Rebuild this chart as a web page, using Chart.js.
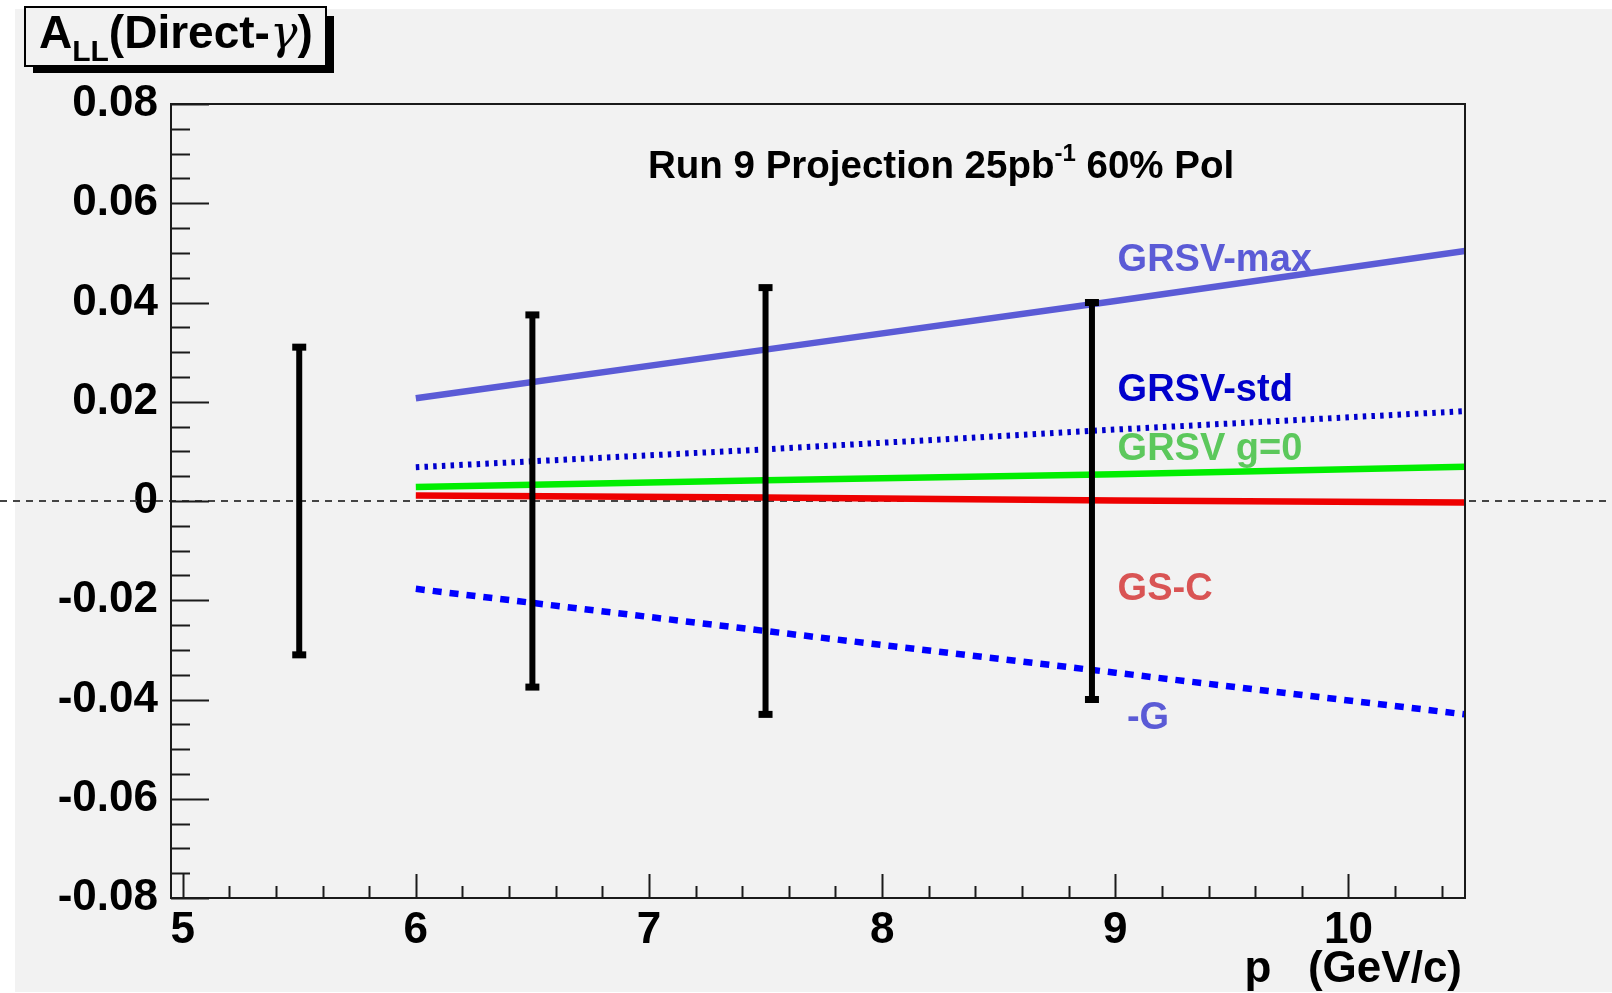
<!DOCTYPE html>
<html>
<head>
<meta charset="utf-8">
<title>A_LL(Direct-gamma) Run 9 projection</title>
<script src="https://cdn.jsdelivr.net/npm/chart.js@4.4.1/dist/chart.umd.min.js"></script>
<style>
  html, body { margin: 0; padding: 0; background: #ffffff; }
  canvas { display: block; }
</style>
</head>
<body>
<canvas id="allChart" width="1612" height="993"></canvas>
<script>
// theory curves at these pT values
const curveX = [6, 7.5, 9, 10.5];
const grsvMax = [0.0207, 0.0305, 0.0403, 0.0504];
const grsvStd = [0.0068, 0.0104, 0.0144, 0.0181];
const grsvZero = [0.0028, 0.0042, 0.0054, 0.0069];
const gsC = [0.0011, 0.0007, 0.0001, -0.0003];
const minusG = [-0.0177, -0.0262, -0.0346, -0.0430];

// projected points (drawn at zero) and their statistical errors
const pointX = [5.5, 6.5, 7.5, 8.9];
const pointY = [0, 0, 0, 0];
const pointErr = [0.031, 0.0375, 0.043, 0.040];

const xTicks = [5, 6, 7, 8, 9, 10];
const yTicks = [-0.08, -0.06, -0.04, -0.02, 0, 0.02, 0.04, 0.06, 0.08];

const FONT = "'Liberation Sans', Arial, Helvetica, sans-serif";

// curve labels, anchored in data coordinates
const curveLabels = [
    { text: 'GRSV-max', x: 9.01, y: 0.0463, color: '#5b5bd6' },
    { text: 'GRSV-std', x: 9.01, y: 0.0202, color: '#0000cc' },
    { text: 'GRSV g=0', x: 9.01, y: 0.0083, color: '#5cc85c' },
    { text: 'GS-C', x: 9.01, y: -0.0200, color: '#d95454' },
    { text: '-G', x: 9.05, y: -0.0459, color: '#5b5bd6' }
];

const toPoints = ys => curveX.map((x, i) => ({ x: x, y: ys[i] }));

// each error bar is a two point segment, separated by a gap
const errorPoints = pointX.flatMap((x, i) => [
    { x: x, y: pointY[i] - pointErr[i] },
    { x: x, y: pointY[i] + pointErr[i] },
    { x: x, y: null }
]);

// draws a run of text pieces with sub/superscripts
function drawRuns(ctx, x, y, runs, color) {
    ctx.fillStyle = color;
    ctx.textBaseline = 'alphabetic';
    ctx.textAlign = 'left';
    runs.forEach(r => {
        ctx.font = (r.style || '') + ' ' + (r.weight || 'bold') + ' ' + r.size + 'px ' + (r.family || FONT);
        ctx.fillText(r.t, x, y + (r.dy || 0));
        x += ctx.measureText(r.t).width;
    });
}

const rootStyle = {
    id: 'rootStyle',
    beforeDraw(chart) {
        const ctx = chart.ctx;
        ctx.save();
        ctx.fillStyle = '#ffffff';
        ctx.fillRect(0, 0, chart.width, chart.height);
        ctx.fillStyle = '#f2f2f2';
        ctx.fillRect(15, 9, chart.width - 15, 983);
        ctx.restore();
    },
    beforeDatasetsDraw(chart) {
        const ctx = chart.ctx;
        const y0 = chart.scales.y.getPixelForValue(0);
        ctx.save();
        ctx.strokeStyle = '#444444';
        ctx.lineWidth = 2;
        ctx.setLineDash([7, 6]);
        ctx.beginPath();
        ctx.moveTo(0, y0);
        ctx.lineTo(chart.width, y0);
        ctx.stroke();
        ctx.restore();
    },
    afterDatasetsDraw(chart) {
        const ctx = chart.ctx;
        const a = chart.chartArea;
        const xs = chart.scales.x;
        const ys = chart.scales.y;
        ctx.save();
        ctx.strokeStyle = '#1a1a1a';
        ctx.lineWidth = 2;
        ctx.strokeRect(a.left, a.top, a.right - a.left, a.bottom - a.top);

        // inward ticks, ROOT style: 5 divisions on x, 4 on y
        ctx.beginPath();
        for (let i = 0; i <= 27; i++) {
            const v = 5 + i * 0.2;
            const px = Math.round(xs.getPixelForValue(v)) + 0.5;
            const len = i % 5 === 0 ? 24 : 12;
            ctx.moveTo(px, a.bottom);
            ctx.lineTo(px, a.bottom - len);
        }
        for (let i = 0; i <= 32; i++) {
            const v = -0.08 + i * 0.005;
            const py = Math.round(ys.getPixelForValue(v)) + 0.5;
            const len = i % 4 === 0 ? 38 : 19;
            ctx.moveTo(a.left, py);
            ctx.lineTo(a.left + len, py);
        }
        ctx.stroke();
        ctx.restore();
    },
    afterDraw(chart) {
        const ctx = chart.ctx;
        const xs = chart.scales.x;
        const ys = chart.scales.y;
        const a = chart.chartArea;
        ctx.save();

        // title box with shadow
        ctx.fillStyle = '#000000';
        ctx.fillRect(33, 66, 300, 7);
        ctx.fillRect(326, 16, 8, 57);
        ctx.fillStyle = '#f2f2f2';
        ctx.fillRect(25, 7, 301, 59);
        ctx.strokeStyle = '#000000';
        ctx.lineWidth = 2;
        ctx.strokeRect(25, 7, 301, 59);
        drawRuns(ctx, 39, 48, [
            { t: 'A', size: 46 },
            { t: 'LL', size: 30, dy: 13 },
            { t: '(Direct-', size: 46 },
            { t: 'γ', size: 46, weight: 'normal', style: 'italic', family: "'DejaVu Serif', serif" },
            { t: ')', size: 46 }
        ], '#000000');

        drawRuns(ctx, 648, 178, [
            { t: 'Run 9 Projection 25pb', size: 38.5 },
            { t: '-1', size: 24, dy: -17 },
            { t: ' 60% Pol', size: 38.5 }
        ], '#000000');

        curveLabels.forEach(l => {
            drawRuns(ctx, xs.getPixelForValue(l.x), ys.getPixelForValue(l.y),
                [{ t: l.text, size: 38 }], l.color);
        });

        // x axis title, right aligned to the frame
        ctx.font = 'bold 44px ' + FONT;
        ctx.fillStyle = '#000000';
        ctx.textAlign = 'right';
        ctx.textBaseline = 'alphabetic';
        ctx.fillText('p   (GeV/c)', a.right - 3, 982);
        ctx.restore();
    }
};

const tickFont = { family: FONT, size: 44, weight: 'bold' };

new Chart(document.getElementById('allChart'), {
    type: 'line',
    data: {
        datasets: [
            {
                label: 'projection',
                data: errorPoints,
                borderColor: '#000000',
                borderWidth: 6,
                pointStyle: 'line',
                pointRadius: 7,
                pointBorderWidth: 7,
                pointBorderColor: '#000000',
                spanGaps: false,
                order: 0
            },
            {
                label: curveLabels[0].text,
                data: toPoints(grsvMax),
                borderColor: '#5b5bd6',
                borderWidth: 6.5,
                pointRadius: 0,
                order: 1
            },
            {
                label: curveLabels[1].text,
                data: toPoints(grsvStd),
                borderColor: '#0000cc',
                borderWidth: 6,
                borderDash: [3.5, 5.2],
                pointRadius: 0,
                order: 2
            },
            {
                label: curveLabels[2].text,
                data: toPoints(grsvZero),
                borderColor: '#00ee00',
                borderWidth: 6.5,
                pointRadius: 0,
                order: 3
            },
            {
                label: curveLabels[3].text,
                data: toPoints(gsC),
                borderColor: '#ee0000',
                borderWidth: 6.5,
                pointRadius: 0,
                order: 4
            },
            {
                label: curveLabels[4].text,
                data: toPoints(minusG),
                borderColor: '#0000ff',
                borderWidth: 6.5,
                borderDash: [9, 8],
                pointRadius: 0,
                order: 5
            }
        ]
    },
    options: {
        responsive: false,
        animation: false,
        devicePixelRatio: 1,
        layout: { padding: { left: 0, right: 147, top: 104, bottom: 0 } },
        plugins: {
            legend: { display: false },
            tooltip: { enabled: false }
        },
        scales: {
            x: {
                type: 'linear',
                min: 4.95,
                max: 10.5,
                offset: false,
                afterBuildTicks: s => { s.ticks = xTicks.map(v => ({ value: v })); },
                afterFit: s => { s.height = 95; },
                grid: { display: false, drawTicks: false },
                border: { display: false },
                ticks: {
                    font: tickFont,
                    color: '#000000',
                    padding: 6,
                    maxRotation: 0,
                    autoSkip: false,
                    callback: v => String(v)
                }
            },
            y: {
                type: 'linear',
                min: -0.08,
                max: 0.08,
                afterBuildTicks: s => { s.ticks = yTicks.map(v => ({ value: v })); },
                afterFit: s => { s.width = 171; },
                grid: { display: false, drawTicks: false },
                border: { display: false },
                ticks: {
                    font: tickFont,
                    color: '#000000',
                    padding: 13,
                    autoSkip: false,
                    callback: v => (v === 0 ? '0' : v.toFixed(2))
                }
            }
        }
    },
    plugins: [rootStyle]
});
</script>
</body>
</html>
